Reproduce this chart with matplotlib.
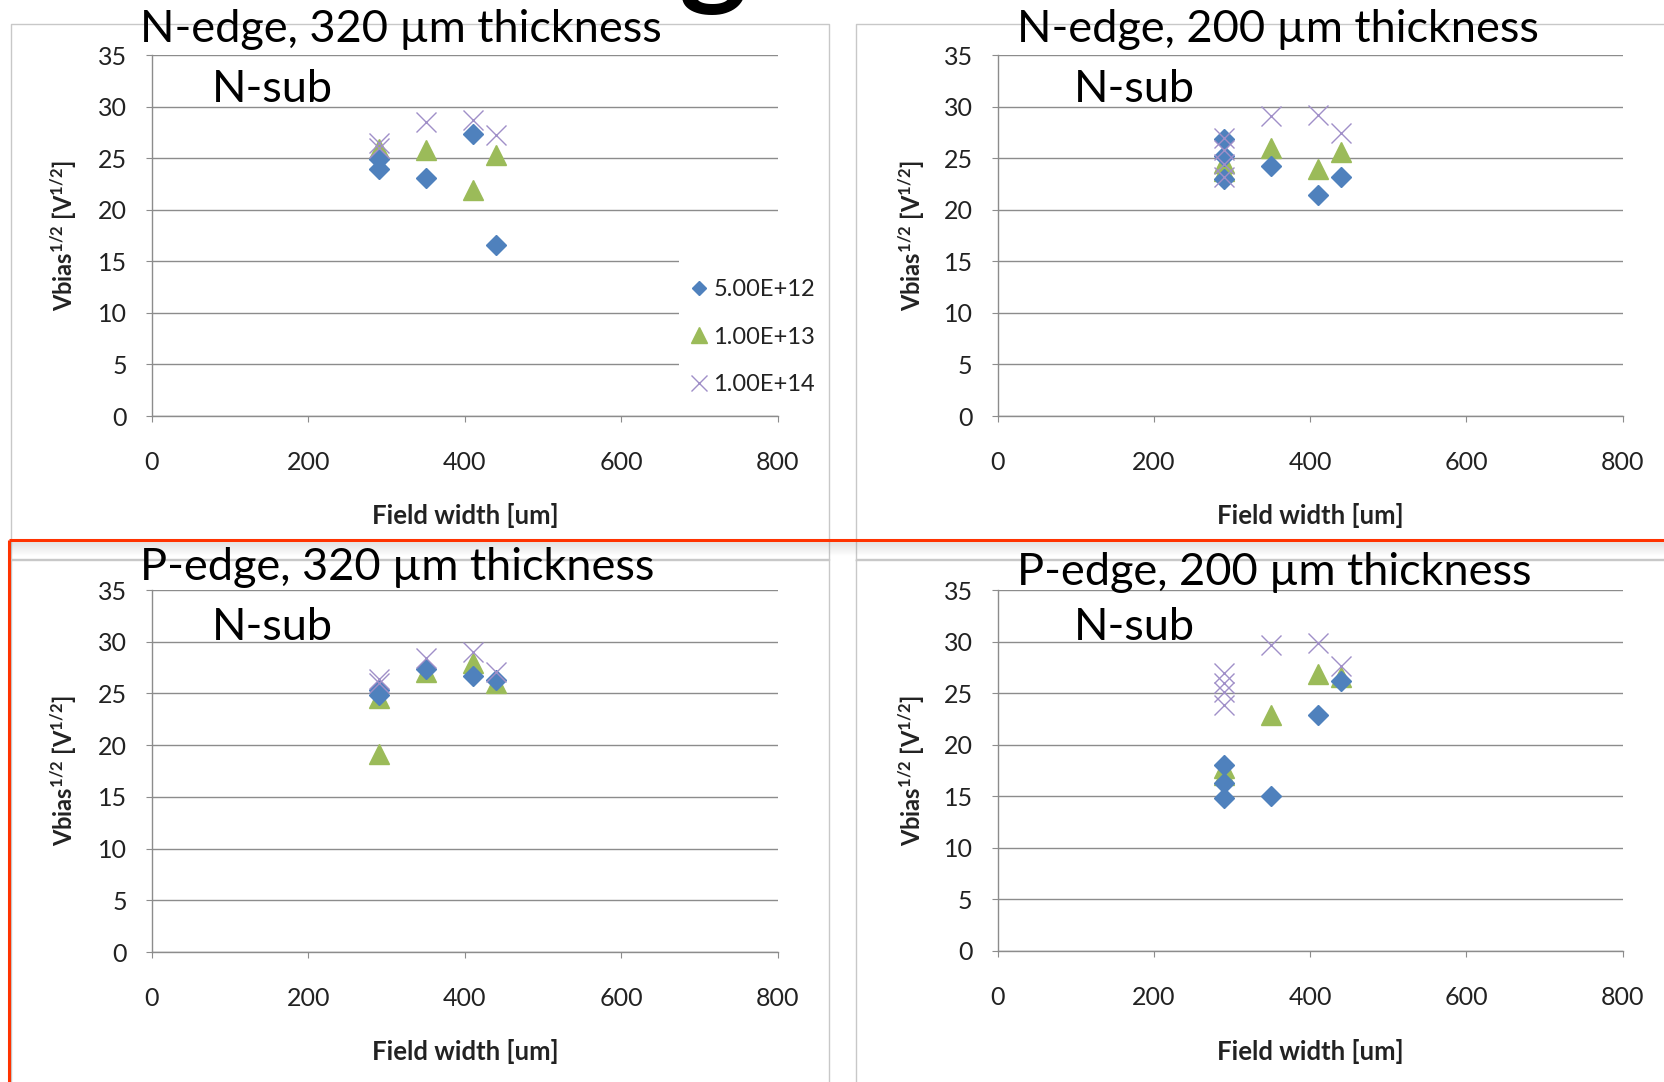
import matplotlib
matplotlib.use('Agg')
import matplotlib.pyplot as plt
from matplotlib.lines import Line2D
from matplotlib.patches import Rectangle

plt.rcParams['font.family'] = ['Lato', 'DejaVu Sans']
plt.rcParams['mathtext.fontset'] = 'custom'
plt.rcParams['mathtext.rm'] = 'Lato:bold'
plt.rcParams['mathtext.it'] = 'Lato:bold'
plt.rcParams['mathtext.bf'] = 'Lato:bold'

# ---------------- data ----------------
field_ticks = [0, 200, 400, 600, 800]
vbias_ticks = [0, 5, 10, 15, 20, 25, 30, 35]
series_labels = ['5.00E+12', '1.00E+13', '1.00E+14']
panel_titles = ['N-edge, 320 µm thickness', 'N-edge, 200 µm thickness',
                'P-edge, 320 µm thickness', 'P-edge, 200 µm thickness']
substrate_label = 'N-sub'
x_label = 'Field width [um]'
y_label = r'Vbias$^{1/2}$ [V$^{1/2}$]'

# N-edge, 320 um
n320_x_5e12 = [290, 290, 350, 410, 440]
n320_y_5e12 = [24.0, 24.9, 23.1, 27.35, 16.6]
n320_x_1e13 = [290, 350, 410, 440]
n320_y_1e13 = [25.9, 25.8, 21.9, 25.3]
n320_x_1e14 = [290, 290, 350, 410, 440]
n320_y_1e14 = [26.5, 26.0, 28.5, 28.7, 27.25]

# N-edge, 200 um
n200_x_5e12 = [290, 290, 290, 350, 410, 440]
n200_y_5e12 = [26.9, 25.2, 23.0, 24.3, 21.4, 23.2]
n200_x_1e13 = [290, 290, 350, 410, 440]
n200_y_1e13 = [24.5, 23.8, 26.0, 24.0, 25.6]
n200_x_1e14 = [290, 290, 290, 290, 350, 410, 440]
n200_y_1e14 = [27.0, 25.8, 24.4, 23.2, 29.1, 29.2, 27.5]

# P-edge, 320 um
p320_x_5e12 = [290, 290, 350, 410, 440]
p320_y_5e12 = [25.3, 24.8, 27.4, 26.7, 26.3]
p320_x_1e13 = [290, 290, 350, 410, 440]
p320_y_1e13 = [24.6, 19.1, 27.1, 27.9, 26.0]
p320_x_1e14 = [290, 290, 350, 410, 440]
p320_y_1e14 = [26.4, 26.0, 28.4, 29.05, 27.1]

# P-edge, 200 um
p200_x_5e12 = [290, 290, 290, 350, 410, 440]
p200_y_5e12 = [18.0, 16.3, 14.8, 15.05, 22.9, 26.2]
p200_x_1e13 = [290, 290, 350, 410, 440]
p200_y_1e13 = [17.7, 17.1, 22.9, 26.9, 26.6]
p200_x_1e14 = [290, 290, 290, 290, 350, 410, 440]
p200_y_1e14 = [27.0, 26.0, 25.15, 23.85, 29.7, 29.9, 27.6]

panels = [
    (n320_x_5e12, n320_y_5e12, n320_x_1e13, n320_y_1e13, n320_x_1e14, n320_y_1e14),
    (n200_x_5e12, n200_y_5e12, n200_x_1e13, n200_y_1e13, n200_x_1e14, n200_y_1e14),
    (p320_x_5e12, p320_y_5e12, p320_x_1e13, p320_y_1e13, p320_x_1e14, p320_y_1e14),
    (p200_x_5e12, p200_y_5e12, p200_x_1e13, p200_y_1e13, p200_x_1e14, p200_y_1e14),
]

# ---------------- styling ----------------
W, H = 1664, 1082
C_DIAM = '#4F81BD'
C_TRI = '#9BBB59'
C_X = '#A08FC8'
GRID = '#8C8C8C'
BOX = '#C8C8C8'

fig = plt.figure(figsize=(W / 100, H / 100), dpi=100)
fig.patch.set_facecolor('white')

# background decorations (pixel coordinates)
bg = fig.add_axes([0, 0, 1, 1], zorder=-1)
bg.set_xlim(0, W)
bg.set_ylim(H, 0)
bg.axis('off')
for (x0, x1, y0, y1) in [(11, 829, 24, 560), (856, W + 5, 24, 560),
                         (11, 829, 559, H + 5), (856, W + 5, 559, H + 5)]:
    bg.plot([x0, x1, x1, x0, x0], [y1, y1, y0, y0, y1], color=BOX, lw=1.0, zorder=1)
for i in range(1, 14):
    bg.plot([9, W], [541 + i, 541 + i], color='#9a9a9a', alpha=0.22 * (1 - i / 14), lw=1.0, zorder=2)
bg.plot([9, W], [540, 540], color='#FF3300', lw=2.2, zorder=3, solid_capstyle='butt')
bg.plot([9, 9], [540, H], color='#FF3300', lw=2.2, zorder=3, solid_capstyle='butt')

# big cut-off glyph from slide title at the very top
fig.text(713 / W, 1 + 9 / H, 'g', fontsize=94, fontweight='bold', ha='center',
         va='baseline', color='black')


def rect(x0, x1, ytop, ybot):
    return [x0 / W, 1 - ybot / H, (x1 - x0) / W, (ybot - ytop) / H]


axes_px = [(151.8, 777.9, 55.2, 416.0), (997.6, 1622.6, 55.2, 416.0),
           (151.8, 777.9, 590.0, 952.0), (997.6, 1622.6, 590.0, 951.0)]
title_px = [(140, 42), (1017, 42), (140, 580), (1017, 585)]
sub_px = [(212, 102), (1074, 102), (212, 640), (1074, 640)]

for k, (pos, data) in enumerate(zip(axes_px, panels)):
    x0, x1, yt, yb = pos
    ax = fig.add_axes(rect(x0, x1, yt, yb))
    xd, yd, xt, yt2, xx, yx = data
    ax.plot(xt, yt2, ls='none', marker='^', ms=14, mfc=C_TRI, mec=C_TRI, zorder=3)
    ax.plot(xd, yd, ls='none', marker='D', ms=10, mfc=C_DIAM, mec=C_DIAM, zorder=4)
    ax.plot(xx, yx, ls='none', marker='x', ms=15, mew=1.0, color=C_X, zorder=5)
    ax.set_xlim(0, 800)
    ax.set_ylim(0, 35)
    ax.set_xticks(field_ticks)
    ax.set_yticks(vbias_ticks)
    ax.yaxis.grid(True, color=GRID, lw=1.0)
    ax.set_axisbelow(True)
    for s in ['top', 'right']:
        ax.spines[s].set_visible(False)
    for s in ['left', 'bottom']:
        ax.spines[s].set_color(GRID)
        ax.spines[s].set_linewidth(1.0)
    ax.tick_params(axis='x', length=4, color=GRID, labelsize=18, labelcolor='#222222', pad=21)
    ax.tick_params(axis='y', length=4, color=GRID, labelsize=18, labelcolor='#222222', pad=14)
    ax.set_xlabel(x_label, fontsize=18.5, fontweight='bold', color='#222222')
    ax.xaxis.set_label_coords(0.5, (yb - (515 if k < 2 else 1052)) / (yb - yt))
    ax.xaxis.label.set_va('center')
    ax.set_ylabel(y_label, fontsize=17, fontweight='bold', color='#222222')
    ax.yaxis.set_label_coords((64 - x0) / (x1 - x0) if k % 2 == 0 else (912 - x0) / (x1 - x0), 0.5)
    ax.yaxis.label.set_va('center')
    ax.patch.set_alpha(0)

    tx, ty = title_px[k]
    fig.text(tx / W, 1 - ty / H, panel_titles[k], fontsize=32.5, ha='left', va='baseline',
             color='black')
    sx, sy = sub_px[k]
    fig.text(sx / W, 1 - sy / H, substrate_label, fontsize=32.5, ha='left', va='baseline',
             color='black')

# white legend area covering the gridlines in the first panel
fig.add_artist(Rectangle((679 / W, 1 - 404 / H), (800 - 679) / W, (404 - 252) / H,
                         transform=fig.transFigure, facecolor='white', edgecolor='none',
                         zorder=1))

handles = [
    Line2D([], [], ls='none', marker='D', ms=7, mfc=C_DIAM, mec=C_DIAM),
    Line2D([], [], ls='none', marker='^', ms=12, mfc=C_TRI, mec=C_TRI),
    Line2D([], [], ls='none', marker='x', ms=12, mew=1.0, color=C_X),
]
leg = fig.legend(handles, series_labels, loc='upper left',
                 bbox_to_anchor=(679 / W, 1 - 269.5 / H), frameon=False,
                 fontsize=17, labelspacing=1.13,
                 handlelength=0.9, handletextpad=0.15, borderpad=0.4, borderaxespad=0)
leg.set_zorder(6)
for t in leg.get_texts():
    t.set_color('#222222')

fig.savefig('out.png', dpi=100, facecolor='white')
